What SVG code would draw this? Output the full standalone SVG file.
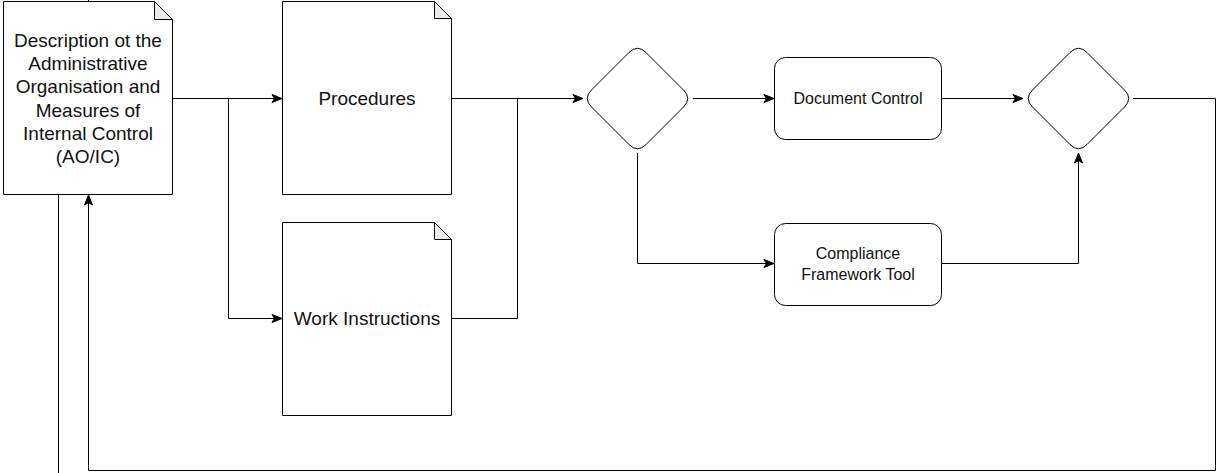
<svg xmlns="http://www.w3.org/2000/svg" width="1217" height="473" viewBox="0 0 1217 473">
<style>
.shape{fill:#fff;stroke:#000;stroke-width:1}
.fold{fill:#ebebeb;stroke:#000;stroke-width:1}
.edge{fill:none;stroke:#000;stroke-width:1}
.t19{font-family:"Liberation Sans",Arial,sans-serif;font-size:19px;fill:#111;text-anchor:middle}
.t16{font-family:"Liberation Sans",Arial,sans-serif;font-size:16px;fill:#111;text-anchor:middle}
</style>
<defs>
<marker id="arr" markerWidth="13" markerHeight="11" refX="11" refY="5.5" orient="auto" markerUnits="userSpaceOnUse">
<path d="M1,1.5 L11,5.5 L1,9.5 L3.5,5.5 Z" fill="#000" stroke="#000" stroke-width="1"/>
</marker>
</defs>
<rect width="1217" height="473" fill="#fff"/>
<g id="connectors">
<path class="edge" d="M88.5,0 V1.5"/>
<path class="edge" d="M172.5,98.5 H282" marker-end="url(#arr)"/>
<path class="edge" d="M228.5,98.5 V318.5 H282" marker-end="url(#arr)"/>
<path class="edge" d="M451.5,98.5 H583" marker-end="url(#arr)"/>
<path class="edge" d="M451.5,318.5 H517.5 V98.5"/>
<path class="edge" d="M693,98.5 H774" marker-end="url(#arr)"/>
<path class="edge" d="M637.5,153 V263.5 H774" marker-end="url(#arr)"/>
<path class="edge" d="M941,98.5 H1023" marker-end="url(#arr)"/>
<path class="edge" d="M941,263.5 H1078.5 V153" marker-end="url(#arr)"/>
<path class="edge" d="M1133,98.5 H1215.5 V470.5 H88.5 V195" marker-end="url(#arr)"/>
<path class="edge" d="M58.5,194.5 V473"/>
</g>
<g id="aoic">
<path class="shape" d="M3.5,1.5 H154.5 L172.5,19.5 V194.5 H3.5 Z"/>
<path class="fold" d="M154.5,1.5 V19.5 H172.5 Z"/>
<text class="t19" x="88" y="47">Description ot the</text>
<text class="t19" x="88" y="70">Administrative</text>
<text class="t19" x="88" y="93">Organisation and</text>
<text class="t19" x="88" y="117">Measures of</text>
<text class="t19" x="88" y="140">Internal Control</text>
<text class="t19" x="88" y="163">(AO/IC)</text>
</g>
<g id="procedures">
<path class="shape" d="M282.5,1.5 H434.5 L451.5,18.5 V194.5 H282.5 Z"/>
<path class="fold" d="M434.5,1.5 V18.5 H451.5 Z"/>
<text class="t19" x="367" y="105">Procedures</text>
</g>
<g id="work-instructions">
<path class="shape" d="M282.5,222.5 H434.5 L451.5,239.5 V415.5 H282.5 Z"/>
<path class="fold" d="M434.5,222.5 V239.5 H451.5 Z"/>
<text class="t19" x="367" y="325">Work Instructions</text>
</g>
<g id="decision1">
<path class="shape" d="M591.5,90 L629,52.5 Q637.5,44 646,52.5 L683.5,90 Q692,98.5 683.5,107 L646,144.5 Q637.5,153 629,144.5 L591.5,107 Q583,98.5 591.5,90 Z"/>
</g>
<g id="document-control">
<rect class="shape" x="774.5" y="57.5" width="167" height="82" rx="11" ry="11"/>
<text class="t16" x="858" y="104">Document Control</text>
</g>
<g id="compliance-tool">
<rect class="shape" x="774.5" y="223.5" width="167" height="82" rx="11" ry="11"/>
<text class="t16" x="858" y="259">Compliance</text>
<text class="t16" x="858" y="280">Framework Tool</text>
</g>
<g id="decision2">
<path class="shape" d="M1032.5,90 L1070,52.5 Q1078.5,44 1087,52.5 L1124.5,90 Q1133,98.5 1124.5,107 L1087,144.5 Q1078.5,153 1070,144.5 L1032.5,107 Q1024,98.5 1032.5,90 Z"/>
</g>
</svg>
